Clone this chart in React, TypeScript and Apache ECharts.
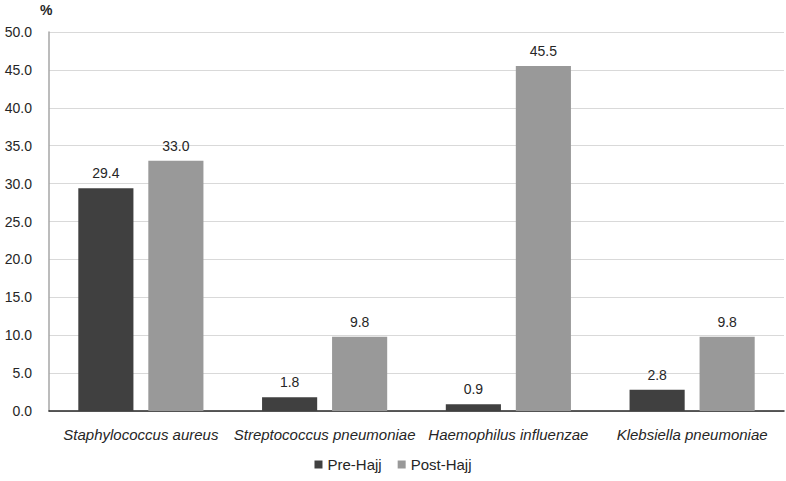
import React, { useEffect, useRef } from "react";
import * as echarts from "echarts";

const categories = [
  "Staphylococcus aureus",
  "Streptococcus pneumoniae",
  "Haemophilus influenzae",
  "Klebsiella pneumoniae",
];
const preHajj = [29.4, 1.8, 0.9, 2.8];
const postHajj = [33.0, 9.8, 45.5, 9.8];
const yMin = 0;
const yMax = 50;
const yInterval = 5;

export default function App() {
  const ref = useRef<HTMLDivElement>(null);
  useEffect(() => {
    document.body.style.margin = "0";
    if (!ref.current) return;
    const chart = echarts.init(ref.current, undefined, { renderer: "svg" });
    const font = "'Liberation Sans', Arial, sans-serif";
    const labelStyle = {
      show: true,
      position: "top" as const,
      distance: 8,
      color: "#262626",
      fontSize: 14,
      fontFamily: font,
      formatter: (p: any) => Number(p.value).toFixed(1),
    };
    chart.setOption({
      animation: false,
      backgroundColor: "#ffffff",
      textStyle: { fontFamily: font },
      grid: { left: 49, right: 2, top: 32, bottom: 70, containLabel: false },
      legend: {
        bottom: 4,
        left: "center",
        itemWidth: 8,
        itemHeight: 8,
        itemGap: 16,
        icon: "rect",
        textStyle: { fontSize: 15, color: "#262626", fontFamily: font },
        data: ["Pre-Hajj", "Post-Hajj"],
      },
      graphic: [
        {
          type: "text",
          left: 40,
          top: 3,
          style: { text: "%", fontSize: 14, fontWeight: "bold", fill: "#262626", fontFamily: font },
        },
      ],
      xAxis: {
        type: "category",
        data: categories,
        axisLine: { lineStyle: { color: "#262626", width: 1.5 } },
        axisTick: { show: false },
        axisLabel: {
          interval: 0,
          fontStyle: "italic",
          fontSize: 15,
          color: "#262626",
          margin: 16,
          fontFamily: font,
        },
      },
      yAxis: {
        type: "value",
        min: yMin,
        max: yMax,
        interval: yInterval,
        axisLine: { show: true, lineStyle: { color: "#a6a6a6", width: 1.5 } },
        axisTick: { show: false },
        splitLine: { lineStyle: { color: "#d9d9d9", width: 1 } },
        axisLabel: {
          fontSize: 14,
          color: "#262626",
          margin: 17,
          fontFamily: font,
          formatter: (v: number) => v.toFixed(1),
        },
      },
      series: [
        {
          name: "Pre-Hajj",
          type: "bar",
          data: preHajj,
          barWidth: "30%",
          barGap: "27%",
          itemStyle: { color: "#404040" },
          label: labelStyle,
        },
        {
          name: "Post-Hajj",
          type: "bar",
          data: postHajj,
          barWidth: "30%",
          itemStyle: { color: "#999999" },
          label: labelStyle,
        },
      ],
    });
    return () => chart.dispose();
  }, []);
  return <div ref={ref} style={{ width: 786, height: 481 }} />;
}
